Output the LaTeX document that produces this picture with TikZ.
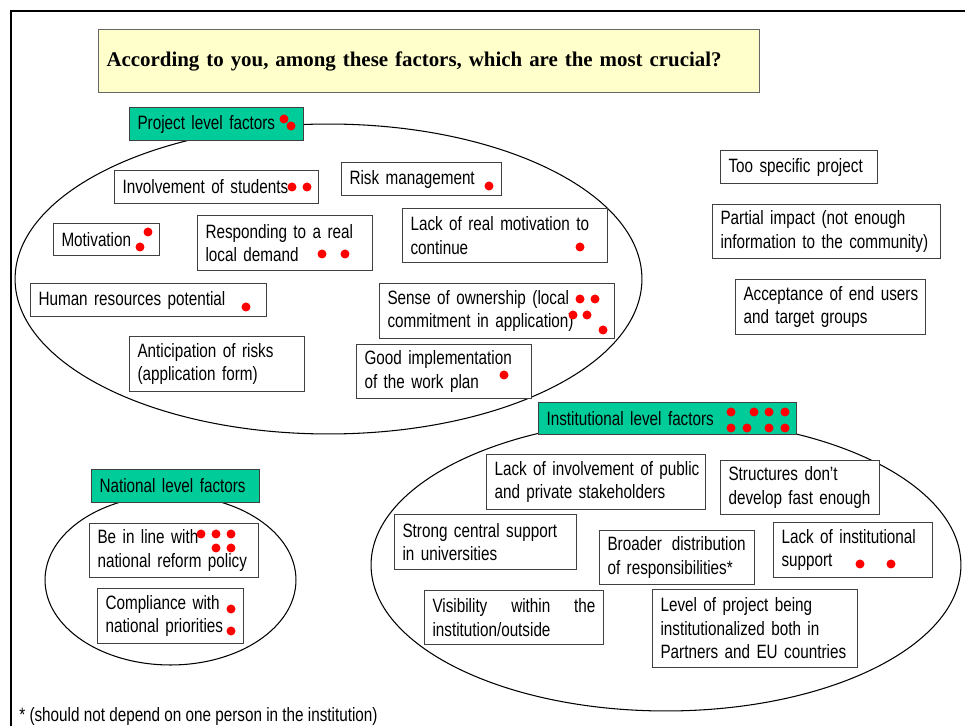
\documentclass[tikz,border=0pt]{standalone}
\usepackage{fontspec}
\setmainfont{Liberation Sans}[FakeStretch=0.79]
\newfontfamily\quizfont{Liberation Serif}

\definecolor{levelgreen}{HTML}{00CC99}
\definecolor{quizyellow}{HTML}{FFFFCC}
\definecolor{votered}{HTML}{FF0000}

\begin{document}
\begin{tikzpicture}[x=0.02cm, y=-0.02cm,
    factor/.style={draw=black!75, fill=white, line width=0.6pt, anchor=north west,
      align=left, inner xsep=0.16cm, inner ysep=0pt, font=\fontsize{11}{13.4}\selectfont,
      execute at begin node={\hyphenpenalty10000\relax}},
    level/.style={factor, fill=levelgreen},
    ring/.style={draw=black, line width=0.6pt},
    vote/.style={fill=votered}]
  \useasboundingbox (0,0) rectangle (965,726);

  % Frame
  \draw[line width=1.1pt] (11,726) -- (11,11) -- (965,11);

  % Question
  \node[factor, fill=quizyellow, draw=black!60, text width=12.90cm, minimum height=1.26cm,
    font=\quizfont\bfseries\fontsize{11.9}{14}\selectfont] (quiz) at (98,29)
    {According to you, among these factors, which are the most crucial?};

  % Groups
  \draw[ring] (328.5,279) ellipse [x radius=6.27cm, y radius=3.10cm];  % project
  \draw[ring] (666,565) ellipse [x radius=5.90cm, y radius=2.92cm];    % institutional
  \draw[ring] (170.5,580) ellipse [x radius=2.51cm, y radius=1.70cm];  % national

  % Level labels
  \node[level, text width=3.16cm, minimum height=0.66cm] (project) at (129,107) {Project level factors};
  \node[level, text width=4.84cm, minimum height=0.64cm] (institution) at (538,402) {Institutional level factors};
  \node[level, text width=3.04cm, minimum height=0.66cm] (national) at (91,469) {National level factors};

  % Project level
  \node[factor, text width=3.76cm, minimum height=0.66cm] (students) at (114,170) {Involvement of students};
  \node[factor, text width=2.88cm, minimum height=0.66cm] (risk) at (341,162) {Risk management};
  \node[factor, text width=1.80cm, minimum height=0.64cm] (motivation) at (53,223) {Motivation};
  \node[factor, text width=3.18cm, minimum height=1.10cm] (demand) at (197,215) {Responding to a real\\local demand};
  \node[factor, text width=3.78cm, minimum height=1.08cm] (continue) at (402,208) {Lack of real motivation to\\continue};
  \node[factor, text width=4.40cm, minimum height=0.66cm] (human) at (30,283) {Human resources potential};
  \node[factor, text width=4.38cm, minimum height=1.10cm] (ownership) at (379,283) {Sense of ownership (local\\commitment in application)};
  \node[factor, text width=3.18cm, minimum height=1.10cm] (risks) at (129,336) {Anticipation of risks\\(application form)};
  \node[factor, text width=3.18cm, minimum height=1.08cm] (workplan) at (356,344) {Good implementation\\of the work plan};

  % Outside the groups
  \node[factor, text width=2.82cm, minimum height=0.66cm] (specific) at (720,150) {Too specific project};
  \node[factor, text width=4.24cm, minimum height=1.08cm] (impact) at (712,204) {Partial impact (not enough\\information to the community)};
  \node[factor, text width=3.48cm, minimum height=1.10cm] (users) at (735,279) {\mbox{Acceptance of end users}\\and target groups};

  % Institutional level
  \node[factor, text width=4.06cm, minimum height=1.10cm] (stakeholders) at (486,454) {\mbox{Lack of involvement of public}\\and private stakeholders};
  \node[factor, text width=2.86cm, minimum height=1.08cm] (structures) at (720,460) {Structures don’t\\develop fast enough};
  \node[factor, text width=3.32cm, minimum height=1.10cm] (central) at (394,514) {Strong central support\\in universities};
  \node[factor, text width=2.78cm, minimum height=1.08cm] (broader) at (599,530) {\mbox{Broader\hspace{2pt} distribution}\\of responsibilities*};
  \node[factor, text width=2.86cm, minimum height=1.10cm] (support) at (773,522) {Lack of institutional\\support};
  \node[factor, text width=3.26cm, minimum height=1.08cm] (visibility) at (424,590) {\hbox to \hsize{Visibility\hfill within\hfill the}\\institution/outside};
  \node[factor, text width=3.78cm, minimum height=1.56cm] (partners) at (652,589) {Level of project being\\institutionalized both in\\Partners and EU countries};

  % National level
  \node[factor, text width=3.06cm, minimum height=1.08cm] (reform) at (89,523) {Be in line with\\national reform policy};
  \node[factor, text width=2.60cm, minimum height=1.10cm] (priorities) at (97,588) {Compliance with\\national priorities};

  % Votes
  \foreach \x/\y in {284/119, 291/126, 292/187, 307/187, 489/186, 148/232, 140/247,
      322/254, 345/254, 580/247, 246/307, 504/375}
    \fill[vote] (\x,\y) circle (0.09cm);
  \foreach \x/\y in {580/299, 595/299, 573/315, 587/315, 603/330}
    \fill[vote] (\x,\y) circle (0.09cm);
  \foreach \x/\y in {731/412, 754/412, 769/412, 785/412, 731/428, 747/428, 769/428, 785/428,
      860/564, 891/564}
    \fill[vote] (\x,\y) circle (0.09cm);
  \foreach \x/\y in {201/534, 216/534, 231/534, 216/548, 231/548, 231/609, 231/631}
    \fill[vote] (\x,\y) circle (0.09cm);

  % Footnote
  \node[anchor=west, inner sep=0pt, font=\fontsize{11}{13.4}\selectfont] (note) at (19,717)
    {* (should not depend on one person in the institution)};
\end{tikzpicture}
\end{document}
